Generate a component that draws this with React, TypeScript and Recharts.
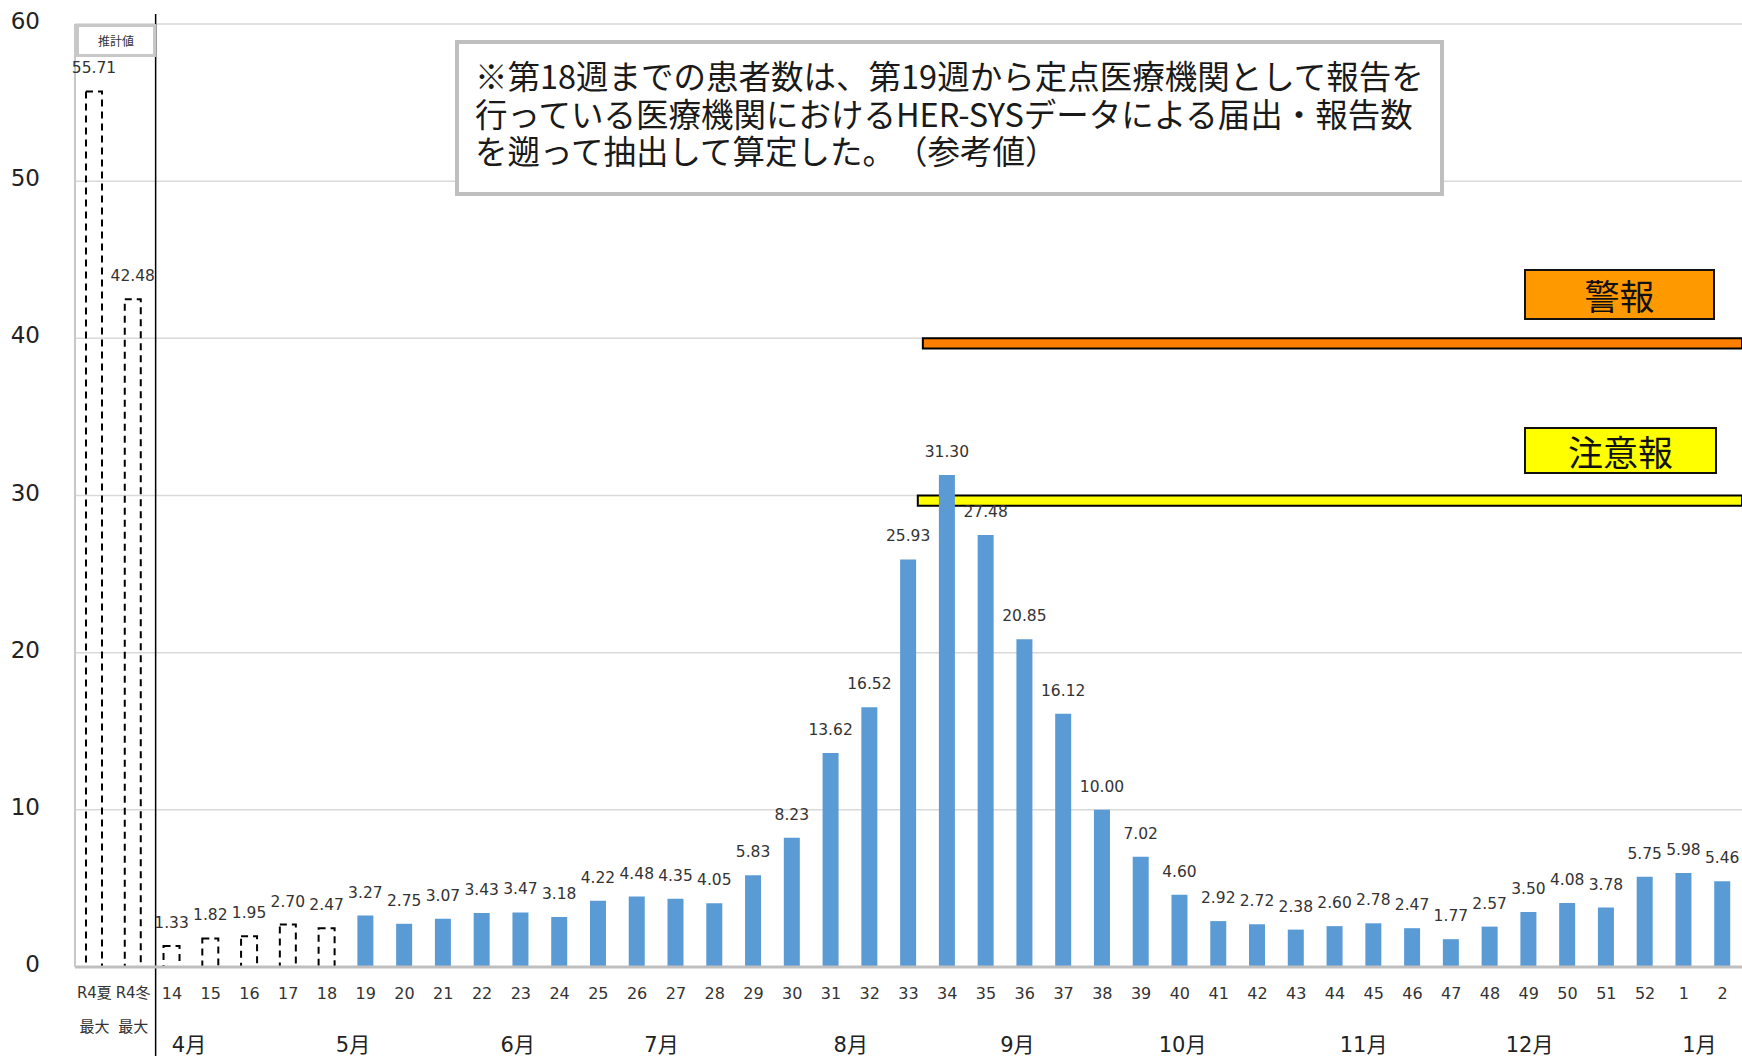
import React from 'react';
import {
  BarChart,
  Bar,
  XAxis,
  YAxis,
  CartesianGrid,
  Cell,
  LabelList,
  ReferenceArea,
  ReferenceLine,
} from 'recharts';

// ---- data ----
const categories = [
  'R4夏', 'R4冬',
  '14', '15', '16', '17', '18', '19', '20', '21', '22', '23', '24', '25', '26', '27', '28', '29',
  '30', '31', '32', '33', '34', '35', '36', '37', '38', '39', '40', '41', '42', '43', '44', '45',
  '46', '47', '48', '49', '50', '51', '52', '1', '2',
];
const seasonMaxCategories = ['R4夏', 'R4冬'];
const seasonMaxSubLabel = '最大';

// estimated values (dashed bars): R4夏最大, R4冬最大, weeks 14-18
const estimatedValues = [55.71, 42.48, 1.33, 1.82, 1.95, 2.7, 2.47];
// reported values: weeks 19-52, 1, 2
const reportedValues = [
  3.27, 2.75, 3.07, 3.43, 3.47, 3.18, 4.22, 4.48, 4.35, 4.05, 5.83, 8.23, 13.62, 16.52,
  25.93, 31.3, 27.48, 20.85, 16.12, 10.0, 7.02, 4.6, 2.92, 2.72, 2.38, 2.6, 2.78, 2.47,
  1.77, 2.57, 3.5, 4.08, 3.78, 5.75, 5.98, 5.46,
];

const yTicks = [0, 10, 20, 30, 40, 50, 60];

// month labels under the week axis (position in category units from the left edge)
const monthLabels = ['4月', '5月', '6月', '7月', '8月', '9月', '10月', '11月', '12月', '1月'];
const monthPositions = [2.94, 7.17, 11.42, 15.13, 20.01, 24.31, 28.57, 33.24, 37.52, 41.9];

// threshold levels
const warningLevel = 40; // 警報
const cautionLevel = 30; // 注意報
const levelBandDepth = 0.65;
const warningStart = 21.87;
const cautionStart = 21.74;
const dividerPosition = 2.08;

const noteLines = [
  '※第18週までの患者数は、第19週から定点医療機関として報告を',
  '行っている医療機関におけるHER-SYSデータによる届出・報告数',
  'を遡って抽出して算定した。（参考値）',
];

const data = categories.map((category, i) => {
  const estimated = i < estimatedValues.length;
  return {
    category,
    slot: i + 0.5,
    estimated,
    value: estimated ? estimatedValues[i] : reportedValues[i - estimatedValues.length],
  };
});

const FONT = "'DejaVu Sans', 'Noto Sans CJK JP', sans-serif";
const CJK = "'Noto Sans CJK JP', 'Noto Sans', sans-serif";

const CategoryTick = (props: any) => {
  const { x, y, payload } = props;
  const label = String(payload.value);
  const lines = seasonMaxCategories.includes(label) ? [label, seasonMaxSubLabel] : [label];
  return (
    <g>
      {lines.map((t, i) => (
        <text
          key={i}
          x={x}
          y={y + 26 + i * 34}
          textAnchor="middle"
          dominantBaseline="central"
          fontSize={i === 0 && lines.length === 1 ? 16 : 15}
          fontFamily={FONT}
          fill="#333"
        >
          {t}
        </text>
      ))}
    </g>
  );
};

const MonthTick = (props: any) => {
  const { x, y, index } = props;
  return (
    <text
      x={x}
      y={y + 18}
      textAnchor="middle"
      dominantBaseline="central"
      fontSize={21}
      fontFamily={FONT}
      fill="#222"
    >
      {monthLabels[index]}
    </text>
  );
};

const YTick = (props: any) => {
  const { x, y, payload } = props;
  return (
    <text
      x={x}
      y={y - 3}
      textAnchor="end"
      dominantBaseline="central"
      fontSize={23}
      fontFamily={FONT}
      fill="#222"
    >
      {payload.value}
    </text>
  );
};

const ValueLabel = (props: any) => {
  const { x, y, width, value } = props;
  if (value == null) return null;
  return (
    <text
      x={Number(x) + Number(width) / 2}
      y={Number(y) - 18}
      textAnchor="middle"
      fontSize={15.5}
      fontFamily={FONT}
      fill="#333"
    >
      {Number(value).toFixed(2)}
    </text>
  );
};

const DividerShape = (props: any) => {
  const { x1, x2 } = props;
  return <line x1={x1} x2={x2} y1={14} y2={1056} stroke="#000" strokeWidth={1.5} />;
};

export default function App() {
  return (
    <div style={{ position: 'absolute', left: 0, top: 0, width: 1742, height: 1056, background: '#fff' }}>
      <BarChart
        width={1742}
        height={1056}
        data={data}
        margin={{ top: 24, right: 0, bottom: 0, left: 0 }}
        barSize={16}
      >
        <CartesianGrid vertical={false} stroke="#d9d9d9" strokeWidth={1.5} />
        <XAxis
          dataKey="category"
          interval={0}
          height={60}
          tickLine={false}
          tickSize={0}
          tickMargin={0}
          axisLine={{ stroke: '#bfbfbf', strokeWidth: 3 }}
          tick={<CategoryTick />}
        />
        <XAxis
          xAxisId="month"
          dataKey="slot"
          type="number"
          domain={[0, categories.length]}
          allowDataOverflow={true}
          ticks={monthPositions}
          interval={0}
          height={29}
          axisLine={false}
          tickLine={false}
          tickSize={0}
          tickMargin={0}
          tick={<MonthTick />}
        />
        <YAxis
          domain={[0, 60]}
          ticks={yTicks}
          width={75}
          tickLine={false}
          tickSize={0}
          tickMargin={35}
          axisLine={{ stroke: '#c8c8c8', strokeWidth: 2 }}
          tick={<YTick />}
        />
        <Bar dataKey="value" isAnimationActive={false}>
          {data.map((d, i) =>
            d.estimated ? (
              <Cell key={i} fill="none" stroke="#000" strokeWidth={2} strokeDasharray="7 5" />
            ) : (
              <Cell key={i} fill="#5b9bd5" />
            ),
          )}
          <LabelList dataKey="value" content={<ValueLabel />} />
        </Bar>
        <ReferenceArea
          xAxisId="month"
          x1={warningStart}
          x2={categories.length}
          y1={warningLevel - levelBandDepth}
          y2={warningLevel}
          fill="#ff8000"
          fillOpacity={1}
          stroke="#000"
          strokeWidth={2}
          ifOverflow="visible"
        />
        <ReferenceArea
          xAxisId="month"
          x1={cautionStart}
          x2={categories.length}
          y1={cautionLevel - levelBandDepth}
          y2={cautionLevel}
          fill="#ffff00"
          fillOpacity={1}
          stroke="#000"
          strokeWidth={2}
          ifOverflow="visible"
        />
        <ReferenceLine xAxisId="month" x={dividerPosition} shape={<DividerShape />} ifOverflow="visible" />
      </BarChart>

      {/* 推計値 box */}
      <div
        style={{
          position: 'absolute',
          left: 76,
          top: 24,
          width: 80,
          height: 33,
          boxSizing: 'border-box',
          border: '3px solid #c8c8c8',
          background: '#fff',
          fontFamily: CJK,
          fontSize: 12,
          color: '#333',
          display: 'flex',
          alignItems: 'center',
          justifyContent: 'center',
        }}
      >
        推計値
      </div>

      {/* note box */}
      <div
        style={
          {
            position: 'absolute',
            left: 455,
            top: 40,
            width: 989,
            height: 156,
            boxSizing: 'border-box',
            border: '4px solid #bfbfbf',
            background: '#fff',
            fontFamily: CJK,
            fontSize: 32.5,
            lineHeight: '37.7px',
            color: '#1a1a1a',
            padding: '12px 0 0 16px',
            whiteSpace: 'nowrap',
            textSpacingTrim: 'space-all',
          } as any
        }
      >
        {noteLines.map((l, i) => (
          <div key={i}>{l}</div>
        ))}
      </div>

      {/* 警報 box */}
      <div
        style={{
          position: 'absolute',
          left: 1524,
          top: 269,
          width: 191,
          height: 51,
          boxSizing: 'border-box',
          border: '2px solid #111',
          background: '#ff9900',
          fontFamily: CJK,
          fontSize: 35,
          color: '#111',
          display: 'flex',
          alignItems: 'center',
          justifyContent: 'center',
        }}
      >
        警報
      </div>

      {/* 注意報 box */}
      <div
        style={{
          position: 'absolute',
          left: 1524,
          top: 427,
          width: 193,
          height: 47,
          boxSizing: 'border-box',
          border: '2px solid #111',
          background: '#ffff00',
          fontFamily: CJK,
          fontSize: 35,
          color: '#111',
          display: 'flex',
          alignItems: 'center',
          justifyContent: 'center',
        }}
      >
        注意報
      </div>
    </div>
  );
}
